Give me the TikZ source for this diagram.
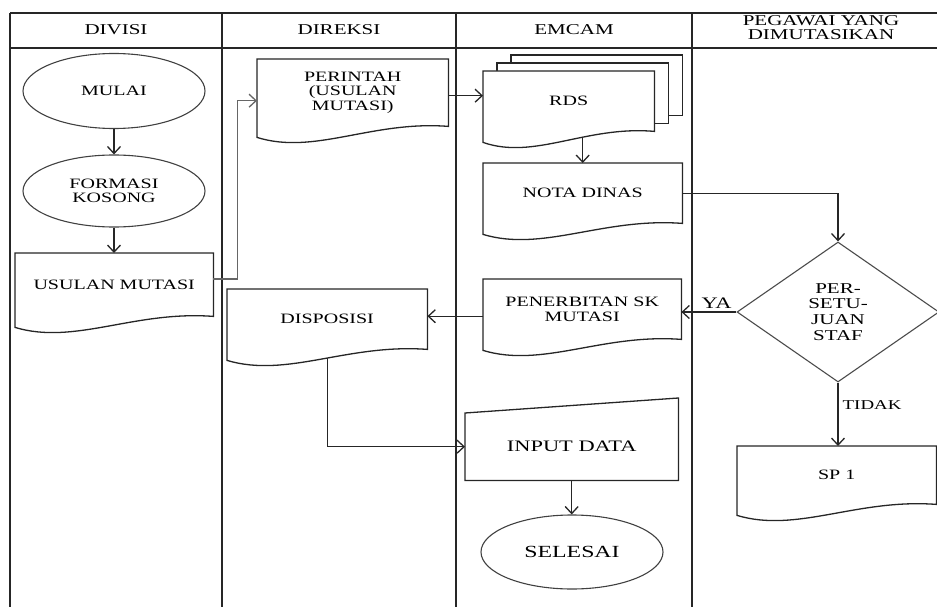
\documentclass[tikz,border=0pt]{standalone}
\usepackage{fontspec}
\setmainfont{Liberation Serif}[FakeStretch=1.4]
\usetikzlibrary{shapes.geometric,arrows.meta,calc}
\pgfdeclarelayer{bg}
\pgfsetlayers{bg,main}
\tikzset{
  ln/.style={draw=black!85, line width=1.3pt},
  arr/.style={ln, -{Straight Barb[length=7pt,width=13pt,line width=1.3pt]}},
  txt/.style={font=\fontsize{14.3}{14.5}\selectfont, align=center, text=black},
  docnode/.style={txt, rectangle, inner sep=0pt, anchor=north west},
  term/.style={txt, ellipse, draw=black!75, line width=1.1pt, minimum width=182pt, minimum height=74pt, inner sep=0pt},
  decision/.style={txt, diamond, draw=black!70, line width=1.1pt, minimum width=202pt, minimum height=140pt, inner sep=0pt, font=\fontsize{15}{15.7}\selectfont},
  head/.style={font=\fontsize{15}{14}\selectfont, align=center, text=black},
  lbl/.style={text=black, inner sep=3pt}
}
\newcommand\docoutline[1]{%
  \begin{pgfonlayer}{bg}
  \draw[ln, fill=white] (#1.north west) -- (#1.north east) -- (#1.south east)
    .. controls ($(#1.south west)!0.6!(#1.south east)+(0,-6)$) and ($(#1.south west)!0.3!(#1.south east)+(0,29)$) ..
    ($(#1.south west)+(0,11)$) -- cycle;
  \end{pgfonlayer}}
\begin{document}
\begin{tikzpicture}[x=1pt,y=-1pt]
\useasboundingbox (0,0) rectangle (937,607);
% table
\draw[ln] (10,13) -- (937,13);
\draw[ln] (10,48) -- (937,48);
\foreach \xx in {10,222,456,692} \draw[ln] (\xx,13) -- (\xx,607);
\node[head] (h1) at (116,30) {DIVISI};
\node[head] (h2) at (339,30) {DIREKSI};
\node[head] (h3) at (574,30) {EMCAM};
\node[head] (h4) at (821,28) {PEGAWAI YANG\\DIMUTASIKAN};

% nodes
\node[term, minimum height=75pt] (mulai) at (114,91) {MULAI};
\node[term, minimum height=72pt] (formasi) at (114,191) {FORMASI\\KOSONG};
\node[docnode, minimum width=198pt, minimum height=63pt] (usulan) at (15,253) {USULAN MUTASI};
\docoutline{usulan}
\node[docnode, minimum width=191pt, minimum height=67pt] (perintah) at (257,59) {PERINTAH\\(USULAN\\MUTASI)};
\docoutline{perintah}
\node[docnode, minimum width=171pt, minimum height=60pt] (rds) at (483,71) {RDS};
\begin{pgfonlayer}{bg}
\draw[ln, fill=white] ($(rds.north west)+(28,-16)$) rectangle ($(rds.south east)+(28,-16)$);
\draw[ln, fill=white] ($(rds.north west)+(14,-8)$) rectangle ($(rds.south east)+(14,-8)$);
\end{pgfonlayer}
\docoutline{rds}
\node[docnode, minimum width=199pt, minimum height=60pt] (nota) at (483,163) {NOTA DINAS};
\docoutline{nota}
\node[decision] (dec) at (838,312) {PER-\\SETU-\\JUAN\\STAF};
\node[docnode, minimum width=198pt, minimum height=60pt] (pen) at (483,279) {PENERBITAN SK\\MUTASI};
\docoutline{pen}
\node[docnode, minimum width=200pt, minimum height=60pt] (disp) at (227,289) {DISPOSISI};
\docoutline{disp}
\node[docnode, minimum width=213pt, minimum height=67pt, font=\fontsize{16}{16}\selectfont] (input) at (465,413) {INPUT DATA};
\draw[ln] (input.north west) -- ($(input.north east)+(0,-15)$) -- (input.south east) -- (input.south west) -- cycle;
\node[term, minimum height=74pt, font=\fontsize{17}{17}\selectfont] (selesai) at (572,552) {SELESAI};
\node[docnode, minimum width=199pt, minimum height=58pt] (sp) at (737,446) {SP 1};
\docoutline{sp}

% connectors
\draw[arr] (mulai) -- (formasi);
\draw[arr] (formasi) -- (usulan.north -| formasi);
\draw[arr, draw=black!60, line width=1.6pt] ([yshift=6pt]usulan.east) -- ++(24,0) |- ([yshift=-8pt]perintah.west);
\draw[arr] ([yshift=-3pt]perintah.east) -- ([yshift=-3pt]perintah.east -| rds.west);
\draw[arr] ($(nota.north |- rds.south)+(0,6)$) -- (nota.north);
\draw[arr] (nota.east) -| (dec.north);
\draw[arr] (dec.west) -- node[lbl, pos=0.36, above, font=\fontsize{16}{16}\selectfont] {YA} (dec.west -| pen.east);
\draw[arr] ([yshift=-7pt]pen.west) -- ([yshift=-7pt]pen.west -| disp.east);
\draw[arr] ($(disp.south)+(0,9)$) |- (input.west);
\draw[arr] (input.south) -- (input.south |- selesai.north);
\draw[arr] (dec.south) -- node[lbl, pos=0.35, right, inner sep=4pt, font=\fontsize{13.5}{13.5}\selectfont] {TIDAK} (dec.south |- sp.north);
\end{tikzpicture}
\end{document}
